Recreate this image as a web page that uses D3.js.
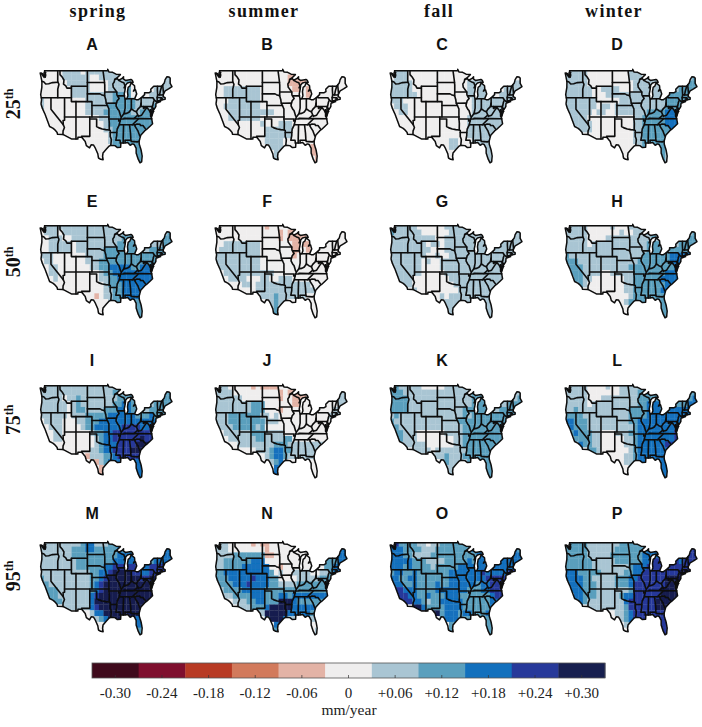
<!DOCTYPE html>
<html><head><meta charset="utf-8">
<script src="https://cdn.jsdelivr.net/npm/d3@7/dist/d3.min.js"></script>
<style>html,body{margin:0;background:#fff}svg{display:block}</style>
</head><body>
<script>
const seasons=["spring","summer","fall","winter"];
const percentiles=["25","50","75","95"];
const panelLetters=["A","B","C","D","E","F","G","H","I","J","K","L","M","N","O","P"];
const legendLabels=["-0.30","-0.24","-0.18","-0.12","-0.06","0","+0.06","+0.12","+0.18","+0.24","+0.30"];
const legendColors=["#3f0a1c","#7f0f2e","#b83a24","#d27a5c","#e3b3a6","#efeeee","#a9c5d3","#5a9fbd","#1270bd","#27399a","#171f4f"];
const classCodes=["e","d","c","b","a","0","1","2","3","4","5"];
const axisUnit="mm/year";

const panelA=["00000111101111111100000000011","00000111111001111110011000011","00000011111000011112011000111","00000001111000011112011001111","00000001111111112222011011111","10000000001111112222211111111","10000000001111122222211112222","00000000001111222222112222222","00000000000001122222222222222","00000000000000122222222222222","00000000000000112222222222222","00000000000000012222222222222","00000000000000012222222222222","00000000000000002222222222222","00000000000000002222222222222"];
const panelB=["00000000000000000000000000000","0000000000000000aaaa000000000","0000000000000000aaaa000000000","00111111110000000aa0a00000000","00111111110000000000a00000000","00011111110000000000000000000","00111111110000000000000000000","00011111111110000000000000000","00011111110000000000000000000","00000000001000111000000000000","00000000000111111000000000000","00000000000111111000000000000","00000000000111100000000000000","000000000000111000000aa000000","000000000000011000000aaa00000","0000000000000100000000aa00000"];
const panelC=["11110000000000000000000000000","01110000000000000000000000000","11111000000000000111110000011","11111000000000000111110001111","11111100000000000111111011111","11100000000000000011111111111","01110000000000000011111111111","00110000000000000011111111111","00000000000000000111111111111","00000000000000000111111111111","00000000000000000111111111111","00000000000000000111111111111","00000000000001100011111111111","00000000000001100001111111111","00000000000000000001111111111"];
const panelD=["11111000000000111000000000012","11111000000000111011100000012","11111000000000011111110001122","11111100111100011111110012222","11111100011111111111112222222","11111110000011111111112222222","11111110110111111111112222233","11111101100111111122223333333","11111000000000011222223333333","01111100000000011222223333333","00011100000000011222222333333","00000000000000011222222333333","00000000000000011222222222222","00000000000000001222222222222","00000000000000001111221122222"];
const panelE=["01111111111111111110000000001","01110111111111111110111000012","00111001111111111122220000122","00111110111111111222221011122","00111110111111222222221122222","11100000001111222222222222222","01100000001112222222222222222","00110000000112233333223333333","00110000000001223333333333333","00010000000001122333333333333","00000000000000122233333333333","00000000000000112233333333333","000000000000a0112233333333333","00000000000000012222222222222","00000000000000012222222222222"];
const panelF=["00000000000a00000000000000000","00000000000000a0aaaa000000000","00000000000000a0aaaa000000000","00111111110000000aaaa00000000","01111111110000000aa0a00000000","11111111110000000a00000000000","11111111110000000000000000000","01111111110000000000000000000","00111111111110000000000000000","00011110001100111000000000000","00000011011111111111100000000","00000000011111111111110000000","00000000001112111111000000000","00000000000012110000000000000","00000000000012000000000a00000"];
const panelG=["11111100000011111111111111111","21111110000001111111111111111","11111111110011111111111111111","11111111011011111111111111111","11111111100011111111111111111","11111111001001111111111111111","11111110100111111111111111111","11111110000111111111111111111","11111110000011111111111111111","01111000000001111111111111111","00111000000000111111111111111","00000100000000011111111111111","00000000000101111111111111111","00000000000011111111111111111","00000000000011111111111111111"];
const panelH=["11111000001000111111111111112","11111000000010011111111111112","11111000011111111112111111222","11111011111111111122211112222","11111111111111111122211222222","21111111111111111222222333332","22211111111111112222222333322","12221111111111222222222233333","12221111001111122222223333333","00221100000001122222233333333","00121000000001122222223333333","00000000000001122222233333333","00000000000000122222222333333","00000000000001222222223222222","00000000000000122222222222222"];
const panelI=["11111111111111111200000000012","11111111111111112212200000122","11111011211111111222220001222","11111101211111112233221012222","11111101221111222333221122222","11111101112222233333322232222","01111000112223333333333333333","00111000012233333344443344444","00011000000122334444444444444","00011000000012334444445444444","00000000000012333444455554444","00000000000112334444555554444","0000000000a111223444444444444","00000000000aa1233333333333333","0000000000000a133333333333332"];
const panelJ=["01100000a0aaaa000a00000000000","11110000000000a0aaaa000000011","11111100000000a00aaa000000111","11111111222000000aa0000000011","11111111222000a00000000000111","11122222221101000000000001110","11122222222111000000000000100","01112222212000000000000000000","00111111222111100000000000000","00011111122111122000000000000","00000111111112221111111110000","00000000011123322111111100000","00000000000123321111110000000","00000000000012310000000000000","00000000000003300000000100000","00000000000003300000000000000"];
const panelK=["12111110000011111111111111111","22211111111111111121111111111","22221111111111111122211111112","22221111111111111122211111222","22221111111111112222221122222","12111111111111112122222222222","21111111111111122222222222222","12111111111111112222222222222","12211100000011112222222222222","02211100000000112222222222222","00111111000000112222222222222","00000111101111111222222222222","00000000011121112222222222222","00000000000121111222222222222","00000000000011111222222222222"];
const panelL=["11111000010011111222111111122","11111000000011112222221111222","11111000111111112222222111223","11111011111111112233321122233","11211111111111222233322333333","22221111111111222233333333333","33222111111111223333333333333","23222111111111123333333333344","12322211000111223333333344444","00222211000001123333333344444","00032211000001123333334444444","00000221000000123333333444444","00000000000001123333333333333","00000000000001123333333333333","00000000000000122333333333333"];
const panelM=["01111111123311122222222222233","11111112223322222322222222333","11111112222222222333330002333","11111111222222223333331123333","11111111222222334444443344444","11111111111223345555443344444","21111111111223455555554455555","12111111111234555555555555555","12221111111234555555555555555","02221111111345555555555555555","00222111111355555555555555555","00000111111345555555555555555","00000000000133555555555555555","00000000000012355555533333333","00000000000000133333333333333","00000000000000022222222222222"];
const panelN=["01100000a0aa00000000000000012","11100000000a00000000000000233","11112222222aa0000000000002233","11222222333000000000000022233","11222233333300a00000000022333","22333333333320100111100112333","22233333433322000011111222333","12223334333322111122222223333","01222233333222222222222223333","00112222333222332333333333333","00001112233222555322222233333","00000111222355555333332333333","00000000011555553333322222222","00000000000355531111111111111","00000000000003500000000111111","00000000000002300000001111111"];
const panelO=["34222211011222222223333333322","33322221112222222233333333332","33322111122222222223333333333","33333222111122222323333333333","33323222212222233333333333333","23322322222223333333433333444","33223322222223333333344444444","33322322223223333332334444444","34433322223333333222334444444","04443322322233322222223444444","00444332122333332222223344444","00000553222233332222223444444","00000005555233323322233333333","00000000000233322222222222222","00000000000002222222222222222"];
const panelP=["22222111111122222223333333334","22222111111222222233333333344","22222111112222222333344443444","22222211111222222334444443444","22222211111111233344444444445","33322222111112233444444445555","33332211111222334444445555555","23332221111222344444445555555","23332221111111244444455555555","00332221111123344444455555555","00232111111113444444555555555","00000111111112444444555555555","00000000000112344444444444444","00000000000012344444444444444","00000000000001244444444444444","00000000000000144444444444444"];
const panels=[panelA,panelB,panelC,panelD,panelE,panelF,panelG,panelH,panelI,panelJ,panelK,panelL,panelM,panelN,panelO,panelP];

const usOutline=[[-124.7,48.4],[-123.2,48.15],[-122.5,47.3],[-122.3,47.9],[-122.8,49],[-95.15,49],[-95.15,49.38],[-94.6,48.7],[-93,48.6],[-91.5,48.1],[-89.6,48],[-90.8,47.3],[-92.1,46.75],[-90.8,46.9],[-90.4,46.55],[-89,46.95],[-88.2,47.45],[-88.3,46.9],[-87.4,46.5],[-85,46.75],[-84.4,46.5],[-84,46],[-85,46.05],[-86.5,45.85],[-87.6,45.1],[-88,44.55],[-87.3,45.2],[-87.5,44.2],[-87.9,43],[-87.8,42.3],[-87.5,41.7],[-86.8,41.75],[-86.3,42.5],[-86.5,43.6],[-86.2,44.7],[-85.5,45],[-85,45.7],[-84.7,45.8],[-83.4,45.1],[-83.3,44.3],[-83.9,43.7],[-83,44.05],[-82.45,43],[-83.1,42.1],[-83.4,41.7],[-82.7,41.5],[-81.7,41.5],[-80.5,42],[-79,42.8],[-79,43.27],[-77,43.3],[-76.2,43.6],[-76.3,44.2],[-75,45],[-71.5,45],[-71.1,45.3],[-70.4,45.8],[-70,46.7],[-69.2,47.45],[-68.3,47.35],[-67.8,47.1],[-67.8,45.7],[-67,44.9],[-68.5,44.3],[-70,43.8],[-70.7,43],[-70.9,42.3],[-70,42],[-70,41.6],[-71.3,41.5],[-72.9,41.25],[-73.7,40.95],[-72,41],[-74,40.55],[-74.1,39.7],[-74.9,38.95],[-75.5,39.5],[-75.1,38.5],[-75.9,37.2],[-76,38.2],[-76.4,38.9],[-76.4,37.2],[-76,36.9],[-75.5,35.25],[-76.5,34.7],[-77.9,33.9],[-79,33.4],[-80.7,32.3],[-81.4,30.7],[-81.3,29.9],[-80.5,28.4],[-80.05,26.9],[-80.3,25.4],[-81,25.15],[-81.8,26.1],[-82.7,27.7],[-82.7,28.9],[-83.6,29.9],[-84.3,30.05],[-85.3,29.7],[-86.4,30.4],[-88,30.25],[-89.4,30.3],[-89.5,29.2],[-90.9,29.1],[-92,29.6],[-93.8,29.7],[-94.7,29.4],[-95.9,28.6],[-97.2,27.7],[-97.4,26.8],[-97.15,25.95],[-98.2,26.05],[-99.2,26.4],[-99.5,27.5],[-100.7,29.1],[-101.4,29.77],[-102.4,29.8],[-103.1,29],[-104.5,29.6],[-105,30.65],[-106.5,31.75],[-108.2,31.78],[-108.2,31.33],[-111.07,31.33],[-114.8,32.5],[-117.12,32.53],[-117.3,33],[-118.4,33.75],[-119.2,34.15],[-120.6,34.55],[-121.9,36.6],[-122.5,37.6],[-123.8,39.3],[-124.35,40.4],[-124.1,41.5],[-124.5,42.8],[-124,44.7],[-123.95,46.2],[-124.7,48.4]];
const stateBorders=[
[[-124.2,48.3],[-123,47.3],[-123,47.9],[-122.3,48.5],[-123,48.6]],
[[-76.3,38.9],[-76.1,37.3]],[[-75.9,38.3],[-75.8,37.3]],
[[-124,46.25],[-123.2,46.15],[-122.3,45.55],[-121,45.65],[-119.3,45.93],[-116.92,46]],
[[-117.03,49],[-117.04,46.4],[-116.92,46],[-116.5,45.5],[-117.03,44.2],[-117.03,42]],
[[-116.05,49],[-116.05,48],[-115,47.3],[-114.3,46.6],[-114.5,45.55],[-113.5,45.1],[-113,44.5],[-111.05,44.5]],
[[-111.05,45],[-111.05,41],[-109.05,41]],[[-111.05,45],[-104.05,45]],[[-104.05,49],[-104.05,41]],[[-109.05,41],[-102.05,41],[-102.05,37]],
[[-124.2,42],[-111.05,42]],
[[-104.05,45.94],[-96.56,45.94]],
[[-104.05,43],[-98.5,43],[-97.9,42.8],[-96.5,42.5]],
[[-102.05,40],[-95.3,40]],
[[-114.05,37],[-94.62,37]],
[[-114.05,42],[-114.05,36.2],[-114.7,36.1],[-114.6,35],[-114.1,34.3],[-114.7,33.4],[-114.75,32.5]],
[[-109.05,41],[-109.05,31.33]],
[[-103,37],[-103,32],[-106.6,32],[-106.5,31.75]],
[[-103,36.5],[-100,36.5],[-100,34.56],[-99,34.2],[-97.5,33.9],[-96,33.75],[-94.5,33.65],[-94.04,33.55],[-94.04,31.99],[-93.55,31.2],[-93.8,29.7]],
[[-94.62,37],[-94.62,36.5],[-94.43,35.4],[-94.48,33.64]],
[[-94.62,37],[-94.62,39.1],[-95.3,40]],
[[-94.62,36.5],[-90.15,36.5],[-90.37,36],[-89.7,36]],
[[-94.04,33],[-91.17,33]],
[[-92.1,46.7],[-92.3,46.1],[-92.9,45.6],[-92.75,44.75],[-91.2,43.5],[-91.1,42.7],[-90.15,41.8],[-91,41.2],[-91.4,40.4],[-91.5,39.9],[-90.7,39],[-90.2,38.7],[-89.5,37.3],[-89.15,37],[-89.5,36.5],[-89.7,36],[-90.1,35],[-91,33.9],[-91.17,33],[-91.2,32.2],[-91.6,31],[-89.75,31],[-89.6,30.2]],
[[-97.2,49],[-96.6,46.3],[-96.56,45.94],[-96.45,45.3],[-96.45,43.5],[-96.5,42.5],[-96,41.5],[-95.8,40.6],[-95.3,40]],
[[-96.45,43.5],[-91.2,43.5]],
[[-95.77,40.58],[-91.73,40.61],[-91.4,40.4]],
[[-90.64,42.5],[-87.8,42.5]],
[[-90.4,46.55],[-89.1,46.1],[-88.1,45.9],[-87.6,45.1]],
[[-87.53,41.7],[-87.53,39.3],[-88,37.9]],
[[-89.15,37],[-88,37.9],[-86.8,37.95],[-85.7,38.3],[-84.8,39.1],[-83.7,38.65],[-82.6,38.4],[-82,39],[-80.85,39.7],[-80.52,40.64]],
[[-84.8,39.1],[-84.8,41.73]],[[-87,41.76],[-84.8,41.73],[-83.45,41.73]],
[[-80.52,42],[-80.52,39.72],[-75.8,39.72]],
[[-79.48,39.72],[-79.48,39.2],[-78.4,39.6],[-77.75,39.3],[-77.05,38.8],[-76.3,38]],
[[-82.6,38.4],[-82,37.53],[-81.7,37.2],[-80.3,37.5],[-79.3,38.4],[-78.4,39.2],[-77.75,39.3]],
[[-82,37.53],[-83.68,36.6]],
[[-89.5,36.5],[-88.05,36.5],[-88.05,36.65],[-83.68,36.6],[-81.68,36.59],[-75.9,36.55]],
[[-81.68,36.59],[-82.6,36],[-84.32,35]],
[[-90.1,35],[-83.1,35]],
[[-83.1,35],[-82.3,35.2],[-81,35.15],[-80.8,34.8],[-79.7,34.8],[-78.55,33.87]],
[[-83.1,35],[-83.3,34.7],[-82,33.5],[-81.1,32.1]],
[[-85.6,35],[-85.18,32.87],[-85,31]],
[[-87.5,30.3],[-87.6,31],[-85,31],[-84.86,30.7],[-82.2,30.57],[-81.45,30.7]],
[[-88.2,35],[-88.4,30.25]],
[[-79.76,42.27],[-79.76,42],[-75.35,42],[-74.7,41.36],[-75.1,40.9],[-75.5,39.8]],
[[-75.8,39.72],[-75.7,38.46],[-75.05,38.45]],
[[-74.7,41.36],[-73.9,41]],
[[-73.5,41.1],[-73.5,42.05],[-73.27,42.75],[-73.4,44],[-73.35,45]],
[[-73.5,42.05],[-71.4,42.02],[-71.2,41.5]],[[-71.8,42.02],[-71.8,41.4]],
[[-73.27,42.75],[-71.3,42.7],[-70.85,42.87]],
[[-72.45,42.73],[-72,44],[-71.5,45]],
[[-70.7,43.1],[-71.08,45.3]],
[[-120,42],[-120,39],[-114.6,35]]
];

// layout of the small multiples
const mapW=132, mapH=94;
const colX=d3.scaleBand().domain(seasons).range([40,40+175*4]);
const rowY=d3.scaleOrdinal().domain(percentiles).range([69,224,384,541]);
const letterY=d3.scaleOrdinal().domain(percentiles).range([50,207,366,519]);
const rowLabelY=d3.scaleOrdinal().domain(percentiles).range([104,262,420,576]);
const lon=d3.scaleLinear().domain([-124.8,-67]).range([0,mapW]);
const lat=d3.scaleLinear().domain([49.45,25.1]).range([0,mapH]);
const cellColor=d3.scaleOrdinal().domain(classCodes).range(legendColors);
const lonSteps=d3.range(-125,-67,2);
const latSteps=d3.range(49.5,24,-1.5);
const path=d3.line().x(d=>lon(d[0])).y(d=>lat(d[1]));

const svg=d3.select("body").append("svg").attr("width",702).attr("height",727);
const defs=svg.append("defs");
defs.append("clipPath").attr("id","land").append("path").attr("d",path(usOutline)+"Z");
defs.append("filter").attr("id","soft").attr("x","-5%").attr("y","-5%").attr("width","110%").attr("height","110%")
  .append("feGaussianBlur").attr("stdDeviation",0.45);
defs.append("filter").attr("id","softLine").attr("x","-5%").attr("y","-5%").attr("width","110%").attr("height","110%")
  .append("feGaussianBlur").attr("stdDeviation",0.3);

// season headings
svg.selectAll("text.season").data(seasons).join("text").attr("class","season")
  .attr("x",s=>colX(s)+[58,49,49,49][seasons.indexOf(s)]).attr("y",17)
  .attr("text-anchor","middle").attr("font-family","Liberation Serif").attr("font-weight","bold")
  .attr("font-size",18).attr("letter-spacing",1.3).attr("fill","#111").text(s=>s);

// percentile labels
percentiles.forEach(p=>{
  const t=svg.append("text").attr("transform",`translate(20,${rowLabelY(p)}) rotate(-90)`)
    .attr("text-anchor","middle").attr("font-family","Liberation Serif").attr("font-weight","bold")
    .attr("font-size",20).attr("fill","#111");
  t.append("tspan").text(p);
  t.append("tspan").attr("font-size",12).attr("dy",-7).text("th");
});

panels.forEach((rows,i)=>{
  const s=seasons[i%4], p=percentiles[Math.floor(i/4)];
  const g=svg.append("g").attr("transform",`translate(${colX(s)},${rowY(p)})`);
  g.append("text").attr("x",lon(-102)).attr("y",letterY(p)-rowY(p)).attr("text-anchor","middle")
    .attr("font-family","Liberation Sans").attr("font-weight","bold").attr("font-size",16).attr("fill","#111").text(panelLetters[i]);
  const cells=[];
  latSteps.forEach((la,r)=>{
    const row=rows[Math.min(r,rows.length-1)];
    lonSteps.forEach((lo,c)=>cells.push({lo,la,v:row[c]||"0"}));
  });
  g.append("g").attr("clip-path","url(#land)").append("g").attr("filter","url(#soft)")
    .selectAll("rect").data(cells).join("rect")
    .attr("x",d=>lon(d.lo)).attr("y",d=>lat(d.la))
    .attr("width",lon(-123)-lon(-125)+0.3).attr("height",lat(48)-lat(49.5)+0.3)
    .attr("fill",d=>cellColor(d.v));
  const lines=g.append("g").attr("fill","none").attr("stroke","#0c0c0c").attr("stroke-linejoin","round").attr("stroke-linecap","round").attr("filter","url(#softLine)");
  lines.selectAll("path.state").data(stateBorders).join("path").attr("class","state").attr("d",path).attr("stroke-width",1.6);
  lines.append("path").attr("d",path(usOutline)+"Z").attr("stroke-width",1.5);
});

// colour bar
const legX=d3.scaleBand().domain(legendLabels).range([92,605]);
const legend=svg.append("g");
legend.selectAll("rect").data(legendLabels).join("rect")
  .attr("x",d=>legX(d)).attr("y",663).attr("width",legX.bandwidth()+0.4).attr("height",15)
  .attr("fill",(d,i)=>legendColors[i]);
legend.append("rect").attr("x",92).attr("y",663).attr("width",513).attr("height",15).attr("fill","none").attr("stroke","#555").attr("stroke-width",0.8);
legend.selectAll("line").data(legendLabels).join("line")
  .attr("x1",d=>legX(d)+legX.bandwidth()/2).attr("x2",d=>legX(d)+legX.bandwidth()/2)
  .attr("y1",675).attr("y2",678).attr("stroke","#333").attr("stroke-width",0.7);
legend.selectAll("text").data(legendLabels).join("text")
  .attr("x",d=>legX(d)+legX.bandwidth()/2).attr("y",698).attr("text-anchor","middle")
  .attr("font-family","Liberation Serif").attr("font-size",15).attr("fill","#222").text(d=>d);
svg.append("text").attr("x",349).attr("y",715).attr("text-anchor","middle")
  .attr("font-family","Liberation Serif").attr("font-size",15.5).attr("fill","#222").text(axisUnit);
</script>
</body></html>
